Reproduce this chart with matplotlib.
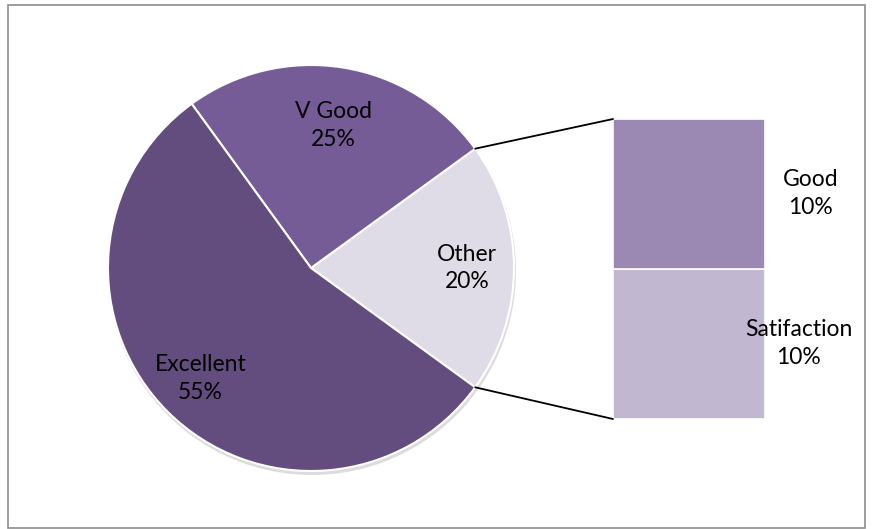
import numpy as np
import matplotlib.pyplot as plt
from matplotlib.patches import Rectangle, Circle, ConnectionPatch

# main pie
pie_labels = ['Other', 'V Good', 'Excellent']
pie_values = [20, 25, 55]
pie_colors = ['#e0dce7', '#765c97', '#634d7e']

# breakdown of "Other"
bar_labels = ['Satifaction', 'Good']
bar_values = [10, 10]
bar_colors = ['#c2b7d1', '#9b88b3']

plt.rcParams['font.family'] = ['Lato', 'DejaVu Sans']

W, H = 872, 529
fig = plt.figure(figsize=(W / 100, H / 100), dpi=100)
ax = fig.add_axes([0, 0, 1, 1])

# chart border
ax.add_patch(Rectangle((8, 1), 857, 523, fill=False, edgecolor='#8c8c8c', lw=1.2))

cx, cy, R = 311, 261, 203
# soft shadow under the pie
ax.add_patch(Circle((cx + 1, cy - 3), R + 1, color='#bbbbbb', alpha=0.5, lw=0))
wedges, _ = ax.pie(pie_values, colors=pie_colors, startangle=-36, counterclock=True,
                   center=(cx, cy), radius=R, frame=True,
                   wedgeprops=dict(edgecolor='white', linewidth=1.5))
ax.set_xlim(0, W)
ax.set_ylim(0, H)
ax.set_aspect('equal')
ax.axis('off')

label_dist = [0.77, 0.71, 0.77]
for w, lab, v, d in zip(wedges, pie_labels, pie_values, label_dist):
    ang = np.deg2rad((w.theta1 + w.theta2) / 2)
    ax.text(cx + d * R * np.cos(ang), cy + d * R * np.sin(ang), f'{lab}\n{v}%',
            ha='center', va='center', fontsize=16.5, linespacing=1.4)

# stacked bar for the "Other" slice
bx = fig.add_axes([613 / W, (H - 419) / H, 152 / W, 300 / H])
bottom = 0
for lab, v, c in zip(bar_labels, bar_values, bar_colors):
    bx.bar(0, v, bottom=bottom, width=1, color=c, edgecolor='white', linewidth=1.2)
    bx.text(0.72 if lab == 'Satifaction' else 0.80, bottom + v / 2 + 0.05, f'{lab}\n{v}%',
            ha='center', va='center', fontsize=16.5, linespacing=1.4, clip_on=False,
            zorder=5)
    bottom += v
bx.set_xlim(-0.5, 0.5)
bx.set_ylim(0, sum(bar_values))
bx.axis('off')

# connector lines
other = wedges[0]
for theta, yb in [(other.theta2, 1), (other.theta1, 0)]:
    t = np.deg2rad(theta)
    con = ConnectionPatch(xyA=(cx + R * np.cos(t), cy + R * np.sin(t)), coordsA=ax.transData,
                          xyB=(0, yb), coordsB=bx.transAxes, color='black', lw=1.3)
    fig.add_artist(con)

plt.savefig('out.png', dpi=100)
